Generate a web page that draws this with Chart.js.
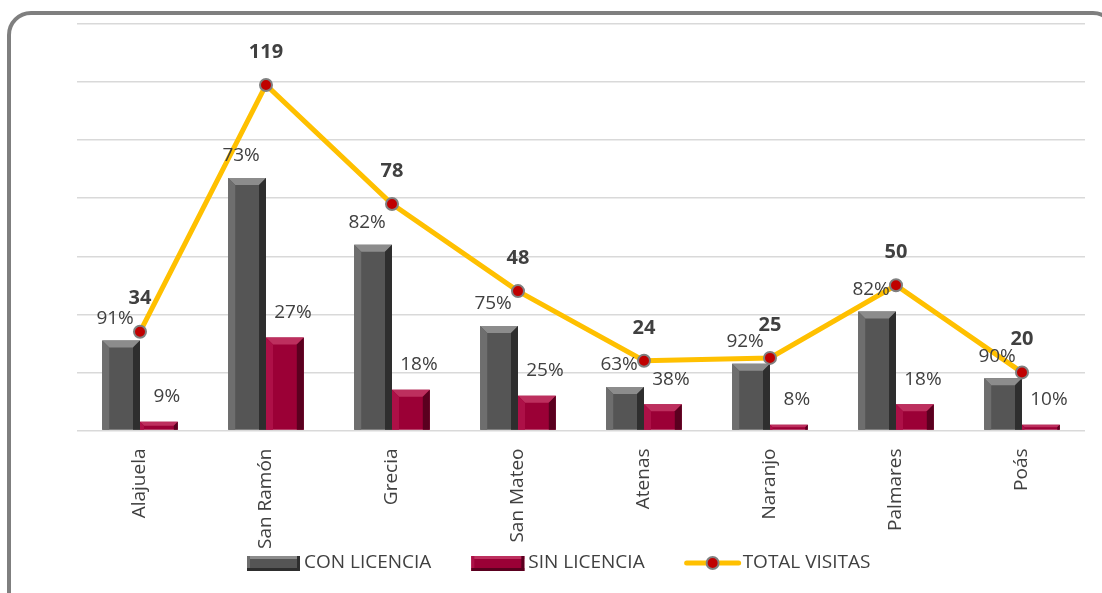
<!DOCTYPE html>
<html>
<head>
<meta charset="utf-8">
<script src="https://cdn.jsdelivr.net/npm/chart.js@4.4.0/dist/chart.umd.min.js"></script>
<style>
  html, body { margin: 0; padding: 0; background: #ffffff; overflow: hidden; }
  .frame {
    position: absolute; left: 7px; top: 11px; width: 1110px; height: 620px;
    border: 4px solid #7f7f7f; border-radius: 24px; box-sizing: border-box;
  }
  .wrap { position: absolute; left: 0; top: 0; width: 1102px; height: 593px; }
</style>
</head>
<body>
<div class="frame"></div>
<div class="wrap"><canvas id="visitasChart"></canvas></div>
<script>
// Chart data
const cantones = ['Alajuela', 'San Ramón', 'Grecia', 'San Mateo', 'Atenas', 'Naranjo', 'Palmares', 'Poás'];
const conLicencia = [31, 87, 64, 36, 15, 23, 41, 18];
const sinLicencia = [3, 32, 14, 12, 9, 2, 9, 2];
const totalVisitas = [34, 119, 78, 48, 24, 25, 50, 20];
const pctCon = ['91%', '73%', '82%', '75%', '63%', '92%', '82%', '90%'];
const pctSin = ['9%', '27%', '18%', '25%', '38%', '8%', '18%', '10%'];

const FONT = "'Open Sans', 'DejaVu Sans', sans-serif";
const TEXT = '#404040';

// Bevel shading per bar dataset
const bevelColors = [
    { face: '#555555', light: '#8c8c8c', side: '#6e6e6e', dark: '#2e2e2e' },
    { face: '#9b0036', light: '#bd2f5e', side: '#ad1047', dark: '#5a001f' }
];

function drawBevel(ctx, el, c) {
    const p = el.getProps(['x', 'y', 'base', 'width'], true);
    const left = p.x - p.width / 2;
    const right = p.x + p.width / 2;
    const top = Math.min(p.y, p.base);
    const bottom = Math.max(p.y, p.base);
    const h = bottom - top;
    if (h <= 0) return;
    const b = Math.min(7, p.width / 4, h / 2);
    ctx.save();
    ctx.fillStyle = c.light;
    ctx.beginPath();
    ctx.moveTo(left, top); ctx.lineTo(right, top);
    ctx.lineTo(right - b, top + b); ctx.lineTo(left + b, top + b);
    ctx.closePath(); ctx.fill();
    ctx.fillStyle = c.side;
    ctx.beginPath();
    ctx.moveTo(left, top); ctx.lineTo(left + b, top + b);
    ctx.lineTo(left + b, bottom); ctx.lineTo(left, bottom);
    ctx.closePath(); ctx.fill();
    ctx.fillStyle = c.dark;
    ctx.beginPath();
    ctx.moveTo(right, top); ctx.lineTo(right - b, top + b);
    ctx.lineTo(right - b, bottom); ctx.lineTo(right, bottom);
    ctx.closePath(); ctx.fill();
    ctx.restore();
}

const bevelPlugin = {
    id: 'bevel',
    afterDatasetDraw(chart, args) {
        const meta = args.meta;
        if (meta.type !== 'bar') return;
        const c = bevelColors[args.index];
        meta.data.forEach(el => drawBevel(chart.ctx, el, c));
    }
};

// Value labels
const labelPlugin = {
    id: 'valueLabels',
    afterDatasetsDraw(chart) {
        const ctx = chart.ctx;
        ctx.save();
        ctx.textAlign = 'center';
        ctx.textBaseline = 'middle';
        ctx.fillStyle = TEXT;

        ctx.font = `19px ${FONT}`;
        chart.getDatasetMeta(0).data.forEach((el, i) => {
            ctx.fillText(pctCon[i], el.x - 6, el.y - 22);
        });
        chart.getDatasetMeta(1).data.forEach((el, i) => {
            ctx.fillText(pctSin[i], el.x + 8, el.y - 25);
        });

        ctx.font = `bold 20px ${FONT}`;
        chart.getDatasetMeta(2).data.forEach((el, i) => {
            ctx.fillText(String(totalVisitas[i]), el.x, el.y - 33);
        });
        ctx.restore();
    }
};

// Legend (drawn below the axis labels)
function barSwatch(ctx, x, y, w, h, c) {
    ctx.fillStyle = c.face; ctx.fillRect(x, y, w, h);
    ctx.fillStyle = c.light; ctx.fillRect(x, y, w, 3);
    ctx.fillStyle = c.side; ctx.fillRect(x, y, 3, h);
    ctx.fillStyle = c.dark; ctx.fillRect(x + w - 3, y, 3, h); ctx.fillRect(x, y + h - 3, w, 3);
}

function lineSwatch(ctx, x, y, w) {
    ctx.strokeStyle = '#ffc000'; ctx.lineWidth = 5; ctx.lineCap = 'round';
    ctx.beginPath(); ctx.moveTo(x + 2, y); ctx.lineTo(x + w - 2, y); ctx.stroke();
    ctx.fillStyle = '#c00000'; ctx.strokeStyle = '#808080'; ctx.lineWidth = 2;
    ctx.beginPath(); ctx.arc(x + w / 2, y, 6, 0, Math.PI * 2); ctx.fill(); ctx.stroke();
}

const legendPlugin = {
    id: 'bottomLegend',
    afterDraw(chart) {
        const ctx = chart.ctx;
        const y = chart.height - 30;
        ctx.save();
        ctx.font = `19px ${FONT}`;
        ctx.fillStyle = TEXT;
        ctx.textBaseline = 'middle';
        let x = 247;
        chart.data.datasets.forEach((ds, i) => {
            if (ds.type === 'line') {
                lineSwatch(ctx, x, y, 56);
                x += 58;
            } else {
                barSwatch(ctx, x, y - 7, 53, 15, bevelColors[i]);
                x += 57;
            }
            ctx.fillStyle = TEXT;
            ctx.fillText(ds.label, x, y);
            x += ctx.measureText(ds.label).width + 40;
        });
        ctx.restore();
    }
};

const ctx = document.getElementById('visitasChart');
new Chart(ctx, {
    type: 'bar',
    data: {
        labels: cantones,
        datasets: [
            {
                label: 'CON LICENCIA',
                data: conLicencia,
                backgroundColor: bevelColors[0].face,
                borderWidth: 0,
                order: 2
            },
            {
                label: 'SIN LICENCIA',
                data: sinLicencia,
                backgroundColor: bevelColors[1].face,
                borderWidth: 0,
                order: 2
            },
            {
                type: 'line',
                label: 'TOTAL VISITAS',
                data: totalVisitas,
                borderColor: '#ffc000',
                borderWidth: 5,
                pointBackgroundColor: '#c00000',
                pointBorderColor: '#808080',
                pointBorderWidth: 2,
                pointRadius: 6,
                tension: 0,
                order: 1
            }
        ]
    },
    options: {
        responsive: true,
        maintainAspectRatio: false,
        animation: false,
        categoryPercentage: 0.6,
        barPercentage: 1.0,
        layout: {
            padding: { left: 77, right: 17, top: 24, bottom: 34 }
        },
        plugins: {
            tooltip: { enabled: false },
            legend: { display: false }
        },
        scales: {
            x: {
                grid: { display: false },
                border: { display: false },
                ticks: {
                    color: TEXT,
                    font: { family: FONT, size: 19 },
                    minRotation: 90,
                    maxRotation: 90,
                    padding: 10
                }
            },
            y: {
                min: 0,
                max: 140,
                grid: { color: '#d9d9d9', lineWidth: 1.5, drawTicks: false },
                border: { display: false },
                ticks: { display: false, stepSize: 20 }
            }
        }
    },
    plugins: [bevelPlugin, labelPlugin, legendPlugin]
});
</script>
</body>
</html>
